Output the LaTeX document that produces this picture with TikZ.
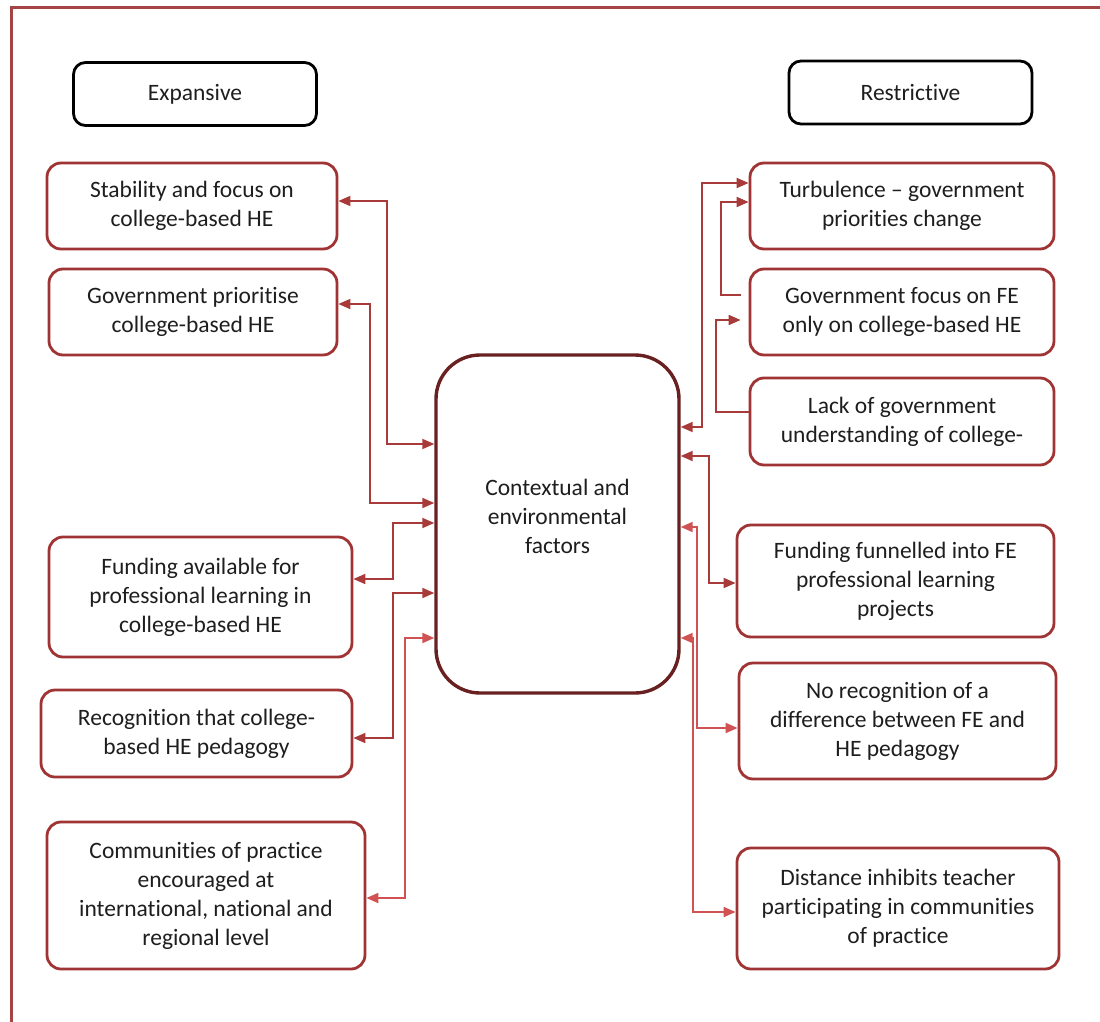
\documentclass[tikz,border=0pt]{standalone}
\usepackage{fontspec}
\setmainfont{Carlito}[Ligatures=NoCommon]
\usetikzlibrary{arrows.meta}
\definecolor{boxred}{RGB}{160,52,52}
\definecolor{hubred}{RGB}{105,32,32}
\definecolor{linkred}{RGB}{168,58,58}
\definecolor{linklight}{RGB}{208,82,82}
\definecolor{framered}{RGB}{165,68,68}
\definecolor{txt}{RGB}{30,30,30}
\begin{document}
\begin{tikzpicture}[x=1pt,y=-1pt,
  lbl/.style={font=\fontsize{23.5}{29}\selectfont, text=txt, align=center},
  box/.style={lbl, draw=boxred, line width=2.8pt, rounded corners=14pt, inner sep=0pt, fill=white},
  headbox/.style={lbl, draw=black, line width=2.8pt, rounded corners=12pt, inner sep=0pt,
    minimum width=243pt, minimum height=63pt},
  hub/.style={draw=hubred, line width=3.4pt, rounded corners=44pt, fill=white, inner sep=0pt},
  tip/.tip={Triangle[length=12pt,width=10pt]},
  conn/.style={draw=linkred, line width=1.8pt},
  connlight/.style={draw=linklight, line width=1.8pt},
  frame/.style={draw=framered, line width=3pt}]
\useasboundingbox (0,0) rectangle (1100,1022);

% outer frame (top and left edges)
\draw[frame] (11,1022) -- (11,8) -- (1100,8);

% column headings
\node[headbox] (exp) at (195,94) {Expansive};
\node[headbox] (res) at (910.5,92.5) {Restrictive};

% central hub
\node[hub, minimum width=243pt, minimum height=338pt] (C) at (557.5,524) {};
\node[lbl] (Ctext) at (557.5,516) {Contextual and\\environmental\\factors};

% expansive factors
\node[box, minimum width=290pt, minimum height=86pt] (L1) at (192,206)
  {Stability and focus on\\college-based HE};
\node[box, minimum width=288pt, minimum height=86pt] (L2) at (193,312)
  {Government prioritise\\college-based HE};
\node[box, minimum width=303pt, minimum height=120pt] (L3) at (200.5,597)
  {Funding available for\\professional learning in\\college-based HE};
\node[box, minimum width=311pt, minimum height=87pt] (L4) at (196.5,733.5)
  {Recognition that college-\\based HE pedagogy};
\node[box, minimum width=318pt, minimum height=147pt] (L5) at (206,895.5)
  {Communities of practice\\encouraged at\\international, national and\\regional level};

% restrictive factors
\node[box, minimum width=304pt, minimum height=86pt] (R1) at (902,206)
  {Turbulence -- government\\priorities change};
\node[box, minimum width=304pt, minimum height=86pt] (R2) at (902,312)
  {Government focus on FE\\only on college-based HE};
\node[box, minimum width=304pt, minimum height=87pt] (R3) at (902,421.5)
  {Lack of government\\understanding of college-};
\node[box, minimum width=317pt, minimum height=112pt] (R4) at (895.5,581)
  {Funding funnelled into FE\\professional learning\\projects};
\node[box, minimum width=317pt, minimum height=116pt] (R5) at (897.5,721)
  {No recognition of a\\difference between FE and\\HE pedagogy};
\node[box, minimum width=322pt, minimum height=121pt] (R6) at (898,908.5)
  {Distance inhibits teacher\\participating in communities\\of practice};

% links on the expansive side
\draw[conn, tip-tip] (C.west |- 0,444) -- (387,444) -- (387,201) -- (L1.east |- 0,201);
\draw[conn, tip-tip] (C.west |- 0,503) -- (370,503) -- (370,304) -- (L2.east |- 0,304);
\draw[conn, tip-tip] (C.west |- 0,523) -- (393,523) -- (393,579) -- (L3.east |- 0,579);
\draw[conn, tip-tip] (C.west |- 0,593) -- (393,593) -- (393,738) -- (L4.east |- 0,738);
\draw[connlight, tip-tip] (C.west |- 0,638) -- (405,638) -- (405,898) -- (L5.east |- 0,898);

% links on the restrictive side
\draw[conn, tip-tip] (C.east |- 0,427) -- (702,427) -- (702,183) -- (R1.west |- 0,183);
\draw[conn, -tip, shorten <=8pt] (R2.west |- 0,295) -- (721,295) -- (721,202) -- (R1.west |- 0,202);
\draw[conn, -tip, shorten >=8pt] (R3.west |- 0,412) -- (716,412) -- (716,320) -- (R2.west |- 0,320);
\draw[conn, tip-tip] (C.east |- 0,456) -- (709,456) -- (709,583) -- (R4.west |- 0,583);
\draw[connlight, tip-tip] (C.east |- 0,527) -- (697,527) -- (697,728) -- (R5.west |- 0,728);
\draw[connlight, tip-tip] (C.east |- 0,638) -- (693,638) -- (693,912) -- (R6.west |- 0,912);
\end{tikzpicture}
\end{document}
